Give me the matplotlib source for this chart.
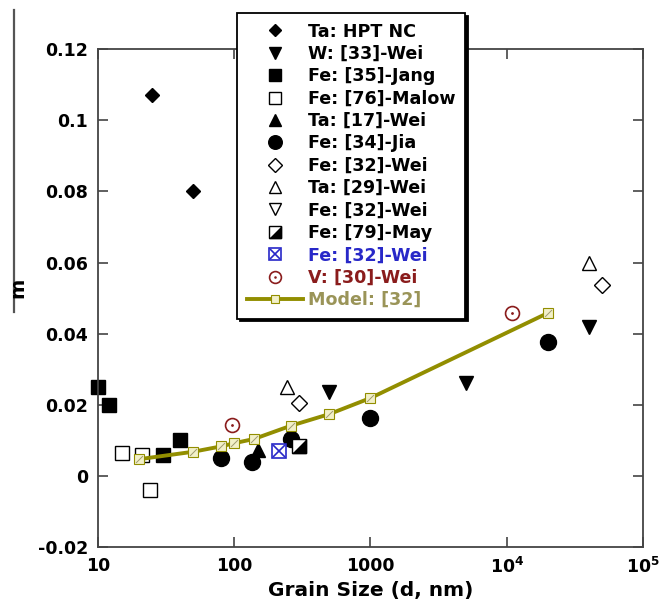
import matplotlib

matplotlib.use("Agg")
import matplotlib.pyplot as plt
from matplotlib.legend_handler import HandlerTuple
from matplotlib.lines import Line2D
from matplotlib.ticker import FixedLocator, FixedFormatter

plt.rcParams["font.family"] = ["DejaVu Sans"]
plt.rcParams["font.weight"] = "bold"
plt.rcParams["mathtext.fontset"] = "dejavusans"

# --- data: grain size d (nm) vs strain-rate sensitivity m ---
ta_hpt_d = [25, 50]
ta_hpt_m = [0.107, 0.080]

w_wei_d = [500, 5000, 40000]
w_wei_m = [0.0235, 0.026, 0.042]

fe_jang_d = [10, 12, 30, 40]
fe_jang_m = [0.025, 0.020, 0.006, 0.010]

fe_malow_d = [15, 21, 24]
fe_malow_m = [0.0065, 0.006, -0.004]

ta17_d = [150]
ta17_m = [0.0072]

fe_jia_d = [80, 135, 260, 1000, 20000]
fe_jia_m = [0.005, 0.0038, 0.0105, 0.0163, 0.0377]

fe32_diam_d = [300, 50000]
fe32_diam_m = [0.0205, 0.0537]

ta29_d = [245, 40000]
ta29_m = [0.025, 0.0598]

fe32_tri_d = []
fe32_tri_m = []

fe_may_d = [300]
fe_may_m = [0.0085]

fe32_box_d = [213]
fe32_box_m = [0.0070]

v_wei_d = [97, 11000]
v_wei_m = [0.0143, 0.0458]

model_d = [20, 50, 80, 100, 140, 260, 500, 1000, 20000]
model_m = [0.0047, 0.0068, 0.0083, 0.0092, 0.0104, 0.0141, 0.0174, 0.0219, 0.0458]

xtick_vals = [10, 100, 1000, 1e4, 1e5]
xtick_text = ["10", "100", "1000", r"$\mathbf{10^4}$", r"$\mathbf{10^5}$"]
ytick_vals = [-0.02, 0, 0.02, 0.04, 0.06, 0.08, 0.1, 0.12]
ytick_text = ["-0.02", "0", "0.02", "0.04", "0.06", "0.08", "0.1", "0.12"]

OLIVE = "#928e00"
BLUE = "#2828c8"
DRED = "#8a1c1c"
HALF_TRI = [(-1, -1), (1, -1), (1, 1)]

fig = plt.figure(figsize=(6.66, 6.14), dpi=100)
ax = fig.add_axes([0.147, 0.109, 0.8185, 0.811])


def pts(d, m, **kw):
    kw.setdefault("ls", "none")
    return ax.plot(d, m, clip_on=False, **kw)[0]


h_ta = pts(ta_hpt_d, ta_hpt_m, marker="D", color="k", ms=7)
h_w = pts(w_wei_d, w_wei_m, marker="v", color="k", ms=10)
h_jang = pts(fe_jang_d, fe_jang_m, marker="s", color="k", ms=10)
h_malow = pts(fe_malow_d, fe_malow_m, marker="s", mfc="white", mec="k", mew=1.0, ms=10)
h_ta17 = pts(ta17_d, ta17_m, marker="^", color="k", ms=10)
h_jia = pts(fe_jia_d, fe_jia_m, marker="o", color="k", ms=11.5)
h_diam = pts(fe32_diam_d, fe32_diam_m, marker="D", mfc="white", mec="k", mew=1.0, ms=8)
h_ta29 = pts(ta29_d, ta29_m, marker="^", mfc="white", mec="k", mew=1.0, ms=10)
h_tri = pts(fe32_tri_d, fe32_tri_m, marker="v", mfc="white", mec="k", mew=1.0, ms=10)

h_may_a = pts(fe_may_d, fe_may_m, marker="s", mfc="white", mec="k", mew=1.0, ms=10)
h_may_b = pts(fe_may_d, fe_may_m, marker=HALF_TRI, color="k", ms=10)

h_box_a = pts(fe32_box_d, fe32_box_m, marker="s", mfc="white", mec=BLUE, mew=1.2, ms=10)
h_box_b = pts(fe32_box_d, fe32_box_m, marker="x", color=BLUE, mew=1.2, ms=9)

h_v_a = pts(v_wei_d, v_wei_m, marker="o", mfc="white", mec=DRED, mew=1.2, ms=10)
h_v_b = pts(v_wei_d, v_wei_m, marker=".", color=DRED, ms=2)

h_model = pts(model_d, model_m, ls="-", color=OLIVE, lw=2.8, marker="s",
              mfc="#f2f0c8", mec=OLIVE, mew=0.8, ms=6.5)
pts(model_d, model_m, marker=[(-1, -1), (1, 1)], color="#a09a70", mew=0.7, ms=5)

ax.set_xscale("log")
ax.set_xlim(10, 1e5)
ax.set_ylim(-0.02, 0.12)

ax.xaxis.set_major_locator(FixedLocator(xtick_vals))
ax.xaxis.set_major_formatter(FixedFormatter(xtick_text))
ax.xaxis.set_minor_locator(FixedLocator([]))
ax.yaxis.set_major_locator(FixedLocator(ytick_vals))
ax.yaxis.set_major_formatter(FixedFormatter(ytick_text))

ax.tick_params(which="major", direction="in", length=7, width=1.2, color="#444",
               top=True, right=True, labelsize=12.5, pad=7)
for sp in ax.spines.values():
    sp.set_color("#444")
    sp.set_linewidth(1.3)

ax.set_xlabel("Grain Size (d, nm)", fontsize=14.5, fontweight="bold", labelpad=3)

# stray ylabel and the rule beside it
fig.text(0.027, 0.531, "m", rotation=90, fontsize=14, fontweight="bold",
         ha="center", va="center")
fig.add_artist(Line2D([0.021, 0.021], [0.984, 0.492], color="#555", lw=1.6))

handles = [h_ta, h_w, h_jang, h_malow, h_ta17, h_jia, h_diam, h_ta29, h_tri,
           (h_may_a, h_may_b), (h_box_a, h_box_b), (h_v_a, h_v_b), h_model]
labels = ["Ta: HPT NC", "W: [33]-Wei", "Fe: [35]-Jang", "Fe: [76]-Malow",
          "Ta: [17]-Wei", "Fe: [34]-Jia", "Fe: [32]-Wei", "Ta: [29]-Wei",
          "Fe: [32]-Wei", "Fe: [79]-May", "Fe: [32]-Wei", "V: [30]-Wei",
          "Model: [32]"]
label_colors = ["k"] * 10 + [BLUE, DRED, "#9a9458"]

leg = fig.legend(handles, labels, loc="upper left", bbox_to_anchor=(0.356, 0.979),
                 borderaxespad=0,
                 handler_map={tuple: HandlerTuple(ndivide=1, pad=0)},
                 numpoints=1, markerscale=0.85, handlelength=3.2,
                 handletextpad=0.3, labelspacing=0.25, borderpad=0.55,
                 fontsize=12.6, fancybox=False, framealpha=1, edgecolor="k",
                 shadow={"color": "k", "alpha": 1})
leg.get_frame().set_linewidth(1.3)
for txt, c in zip(leg.get_texts(), label_colors):
    txt.set_color(c)
    txt.set_fontweight("bold")

fig.savefig("out.png", dpi=100)
